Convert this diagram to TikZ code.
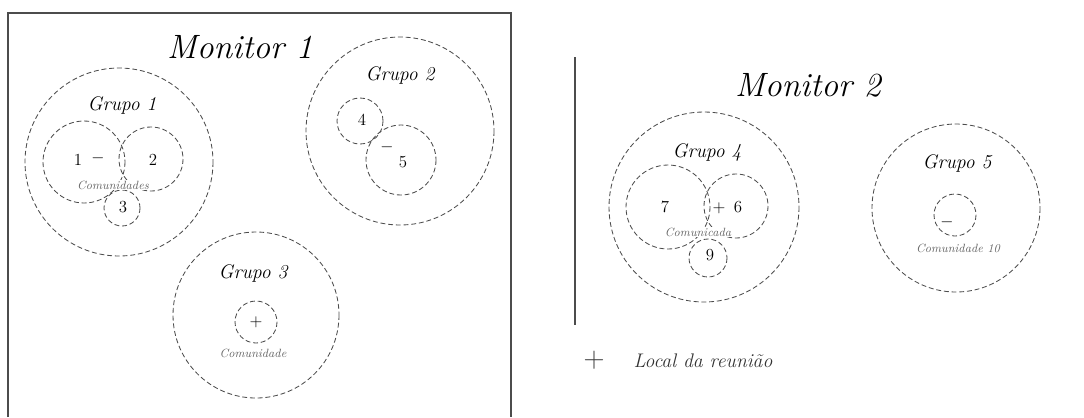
\documentclass[tikz,border=0pt]{standalone}
\usepackage{tikz}

\begin{document}
\begin{tikzpicture}[x=0.025cm, y=-0.025cm,
		circ/.style={draw=black!70, line width=0.6pt, dash pattern=on 3.5pt off 2pt},
		titulo/.style={font=\fontsize{24}{28}\selectfont\itshape},
		grupo/.style={font=\fontsize{14}{16}\selectfont\itshape},
		num/.style={font=\fontsize{12}{14}\selectfont},
		com/.style={font=\fontsize{8.5}{9}\selectfont\itshape, text=black!60, fill=white, inner sep=0.5pt}]
	\useasboundingbox (0,0) rectangle (1084,417);
	
	% Lado Izquierdo: Monitor 1
	\begin{scope}
		\draw[black!70, line width=0.8pt] (8,417) -- (8,13) -- (511,13) -- (511,417);
		\node[titulo] (mon1) at (240,47) {Monitor 1};
		
		% Grupo 1
		\draw[circ] (119,162) circle (94);
		\draw[circ] (84,162) circle (41);
		\draw[circ] (151,159) circle (32);
		\draw[circ] (122,208) circle (18);
		\node[grupo] (g1) at (122,105) {Grupo 1};
		\node[num] (n1) at (78,160) {1};
		\node[num] (m1) at (98,158) {$-$};
		\node[num] (n2) at (153,160) {2};
		\node[num] (n3) at (123,207) {3};
		\node[com] (c1) at (113,185) {Comunidades};
		
		% Grupo 2
		\draw[circ] (400,131) circle (94);
		\draw[circ] (360,121) circle (23);
		\draw[circ] (401,160) circle (35);
		\node[grupo] (g2) at (400,75) {Grupo 2};
		\node[num] (n4) at (362,120) {4};
		\node[num] (m2) at (387,147) {$-$};
		\node[num] (n5) at (403,162) {5};
		
		% Grupo 3
		\draw[circ] (256,315) circle (83);
		\draw[circ] (256,322) circle (21);
		\node[grupo] (g3) at (253,273) {Grupo 3};
		\node[num] (p3) at (256,322) {$+$};
		\node[com] (c3) at (253,353) {Comunidade};
	\end{scope}
	
	% Lado Derecho: Monitor 2
	\begin{scope}
		\draw[black!70, line width=0.8pt] (575,57) -- (575,325);
		\node[titulo] (mon2) at (808,85) {Monitor 2};
		
		% Grupo 4
		\draw[circ] (704,207) circle (95);
		\draw[circ] (668,207) circle (42);
		\draw[circ] (736,206) circle (32);
		\draw[circ] (708,258) circle (19);
		\node[grupo] (g4) at (707,152) {Grupo 4};
		\node[num] (n7) at (665,207) {7};
		\node[num] (p4) at (719,208) {$+$};
		\node[num] (n6) at (738,207) {6};
		\node[num] (n9) at (710,255) {9};
		\node[com] (c4) at (698,232) {Comunicada};
		
		% Grupo 5
		\draw[circ] (956,208) circle (84);
		\draw[circ] (955,215) circle (21);
		\node[grupo] (g5) at (957,163) {Grupo 5};
		\node[num] (m5) at (947,222) {$-$};
		\node[com] (c5) at (958,248) {Comunidade 10};
		
		% Leyenda
		\node[font=\fontsize{22}{24}\selectfont, text=black!75] (leg) at (594,360) {$+$};
		\node[font=\fontsize{14}{16}\selectfont\itshape, text=black!80] (legt) at (703,361) {Local da reunião};
	\end{scope}
\end{tikzpicture}
\end{document}
